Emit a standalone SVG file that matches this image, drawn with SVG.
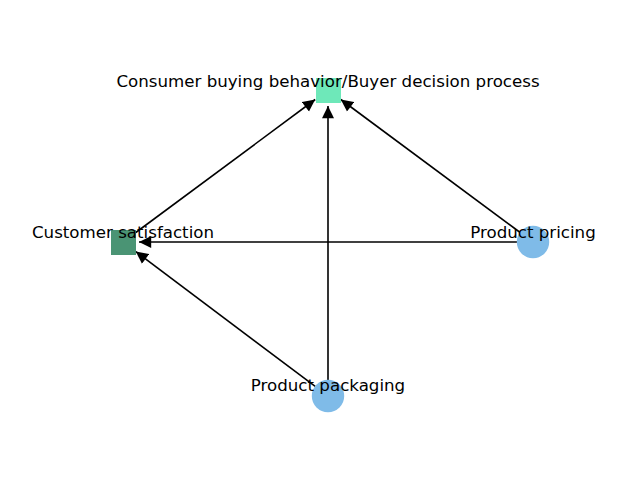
<svg xmlns="http://www.w3.org/2000/svg" width="640" height="480" viewBox="0 0 640 480">
<style>
.edge{stroke:#000;stroke-width:1.6;fill:none;marker-end:url(#arr)}
.lbl{font-family:"DejaVu Sans",sans-serif;font-size:16.67px;fill:#000;text-anchor:middle}
</style>
<defs>
<marker id="arr" markerUnits="userSpaceOnUse" viewBox="0 0 13 13" markerWidth="13" markerHeight="13" refX="12.5" refY="6.5" orient="auto">
<path d="M0.3,0.5 L12.5,6.5 L0.3,12.5 Z" fill="#000"/>
</marker>
</defs>
<rect width="640" height="480" fill="#fff"/>
<g id="edges">
<line class="edge" x1="135.8" y1="232.5" x2="315.2" y2="99.5"/>
<line class="edge" x1="520.2" y1="232.5" x2="340.8" y2="99.5"/>
<line class="edge" x1="328" y1="380" x2="328" y2="106"/>
<line class="edge" x1="517" y1="242" x2="139" y2="242"/>
<line class="edge" x1="315.2" y1="386.4" x2="135.8" y2="251.6"/>
</g>
<g id="n-consumer">
<rect x="316" y="78" width="25" height="25" fill="#6ee8b9"/>
<text class="lbl" x="328" y="86.5">Consumer buying behavior/Buyer decision process</text>
</g>
<g id="n-customer">
<rect x="111" y="230" width="25" height="25" fill="#4a9474"/>
<text class="lbl" x="123" y="238">Customer satisfaction</text>
</g>
<g id="n-pricing">
<circle cx="533" cy="242" r="16.2" fill="#7fbbe8"/>
<text class="lbl" x="533" y="238">Product pricing</text>
</g>
<g id="n-packaging">
<circle cx="328" cy="396" r="16.2" fill="#7fbbe8"/>
<text class="lbl" x="328" y="391">Product packaging</text>
</g>
</svg>
